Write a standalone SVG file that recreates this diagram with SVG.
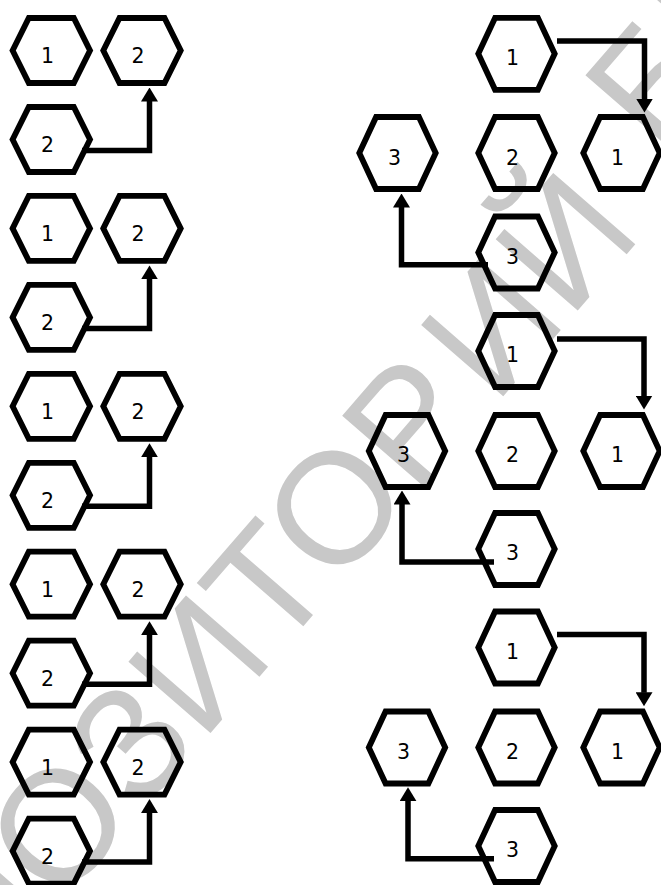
<svg xmlns="http://www.w3.org/2000/svg" xmlns:xlink="http://www.w3.org/1999/xlink" width="661" height="885" viewBox="0 0 661 885">
<style>
.hex{fill:none;stroke:#000;stroke-width:5.8;stroke-linejoin:miter;stroke-miterlimit:10}
.lbl{font-family:"DejaVu Sans","Liberation Sans",sans-serif;font-size:20.5px;fill:#000;text-anchor:middle}
.con{fill:none;stroke:#000;stroke-width:5.5;stroke-linejoin:miter;stroke-linecap:butt}
.wm{font-family:"Liberation Sans",Arial,sans-serif;font-size:158px;fill:#c8c8c8}
</style>
<defs>
<path id="hl" d="M-38.7,0 L-22.5,-32.5 L22.5,-32.5 L38.7,0 L22.5,32.5 L-22.5,32.5 Z"/>
<path id="hr" d="M-38.2,0 L-21.4,-36 L21.4,-36 L38.2,0 L21.4,36 L-21.4,36 Z"/>
<marker id="ah" markerUnits="userSpaceOnUse" viewBox="0 0 14 17" markerWidth="14" markerHeight="17" refX="0.5" refY="8.5" orient="auto">
<path d="M0,0 L14,8.5 L0,17 Z" fill="#000"/>
</marker>
</defs>
<rect width="661" height="885" fill="#fff"/>
<g id="watermark">
<text class="wm" transform="translate(338,500) rotate(-49)" x="-815" y="56.6">РЕПОЗИТОР<tspan dx="15">ИЙ</tspan><tspan dx="69" dy="-40">БГПУ</tspan></text>
</g>

<!-- Left column -->
<g id="L1-1"><use href="#hl" class="hex" x="51.3" y="50.5"/><text class="lbl" x="47.5" y="63">1</text></g>
<g id="L1-2"><use href="#hl" class="hex" x="142" y="50.5"/><text class="lbl" x="138" y="63">2</text></g>
<g id="L1-2b"><use href="#hl" class="hex" x="51.3" y="139.5"/><text class="lbl" x="47.5" y="152">2</text></g>

<g id="L2-1"><use href="#hl" class="hex" x="51.3" y="228.4"/><text class="lbl" x="47.5" y="240.9">1</text></g>
<g id="L2-2"><use href="#hl" class="hex" x="142" y="228.4"/><text class="lbl" x="138" y="240.9">2</text></g>
<g id="L2-2b"><use href="#hl" class="hex" x="51.3" y="317.4"/><text class="lbl" x="47.5" y="329.9">2</text></g>

<g id="L3-1"><use href="#hl" class="hex" x="51.3" y="406.3"/><text class="lbl" x="47.5" y="418.8">1</text></g>
<g id="L3-2"><use href="#hl" class="hex" x="142" y="406.3"/><text class="lbl" x="138" y="418.8">2</text></g>
<g id="L3-2b"><use href="#hl" class="hex" x="51.3" y="495.3"/><text class="lbl" x="47.5" y="507.8">2</text></g>

<g id="L4-1"><use href="#hl" class="hex" x="51.3" y="584.2"/><text class="lbl" x="47.5" y="596.7">1</text></g>
<g id="L4-2"><use href="#hl" class="hex" x="142" y="584.2"/><text class="lbl" x="138" y="596.7">2</text></g>
<g id="L4-2b"><use href="#hl" class="hex" x="51.3" y="673.2"/><text class="lbl" x="47.5" y="685.7">2</text></g>

<g id="L5-1"><use href="#hl" class="hex" x="51.3" y="762.1"/><text class="lbl" x="47.5" y="774.6">1</text></g>
<g id="L5-2"><use href="#hl" class="hex" x="142" y="762.1"/><text class="lbl" x="138" y="774.6">2</text></g>
<g id="L5-2b"><use href="#hl" class="hex" x="51.3" y="851.1"/><text class="lbl" x="47.5" y="863.6">2</text></g>

<!-- Right group 1 -->
<g id="R1-1top"><use href="#hr" class="hex" x="516.5" y="53.8"/><text class="lbl" x="512.5" y="65">1</text></g>
<g id="R1-3left"><use href="#hr" class="hex" x="397.5" y="153"/><text class="lbl" x="394.5" y="164.5">3</text></g>
<g id="R1-2mid"><use href="#hr" class="hex" x="516.5" y="153"/><text class="lbl" x="512.5" y="164.5">2</text></g>
<g id="R1-1right"><use href="#hr" class="hex" x="621.5" y="153"/><text class="lbl" x="617.5" y="164.5">1</text></g>
<g id="R1-3bot"><use href="#hr" class="hex" x="516.5" y="252.5"/><text class="lbl" x="512.5" y="263.5">3</text></g>

<!-- Right group 2 -->
<g id="R2-1top"><use href="#hr" class="hex" x="516.5" y="351"/><text class="lbl" x="512.5" y="362">1</text></g>
<g id="R2-3left"><use href="#hr" class="hex" x="407" y="451"/><text class="lbl" x="403.5" y="462">3</text></g>
<g id="R2-2mid"><use href="#hr" class="hex" x="516.5" y="451"/><text class="lbl" x="512.5" y="462">2</text></g>
<g id="R2-1right"><use href="#hr" class="hex" x="621.5" y="451"/><text class="lbl" x="617.5" y="462">1</text></g>
<g id="R2-3bot"><use href="#hr" class="hex" x="516.5" y="549"/><text class="lbl" x="512.5" y="560">3</text></g>

<!-- Right group 3 -->
<g id="R3-1top"><use href="#hr" class="hex" x="516.5" y="647.5"/><text class="lbl" x="512.5" y="658.5">1</text></g>
<g id="R3-3left"><use href="#hr" class="hex" x="407" y="747.5"/><text class="lbl" x="403.5" y="758.5">3</text></g>
<g id="R3-2mid"><use href="#hr" class="hex" x="516.5" y="747.5"/><text class="lbl" x="512.5" y="758.5">2</text></g>
<g id="R3-1right"><use href="#hr" class="hex" x="621.5" y="747.5"/><text class="lbl" x="617.5" y="758.5">1</text></g>
<g id="R3-3bot"><use href="#hr" class="hex" x="516.5" y="846"/><text class="lbl" x="512.5" y="857">3</text></g>

<g id="connectors">
<path class="con" marker-end="url(#ah)" d="M82,150.5 H149.5 V101"/>
<path class="con" marker-end="url(#ah)" d="M82,328.4 H149.5 V278.9"/>
<path class="con" marker-end="url(#ah)" d="M82,506.3 H149.5 V456.8"/>
<path class="con" marker-end="url(#ah)" d="M82,684.2 H149.5 V634.7"/>
<path class="con" marker-end="url(#ah)" d="M82,862.1 H149.5 V812.6"/>

<path class="con" marker-end="url(#ah)" d="M557,41 H644.5 V99"/>
<path class="con" marker-end="url(#ah)" d="M488,264.7 H401.5 V207"/>
<path class="con" marker-end="url(#ah)" d="M557,339 H644 V396"/>
<path class="con" marker-end="url(#ah)" d="M494,562 H402 V504"/>
<path class="con" marker-end="url(#ah)" d="M557,634.5 H644 V692.7"/>
<path class="con" marker-end="url(#ah)" d="M494,858.7 H408 V800.7"/>
</g>
</svg>
